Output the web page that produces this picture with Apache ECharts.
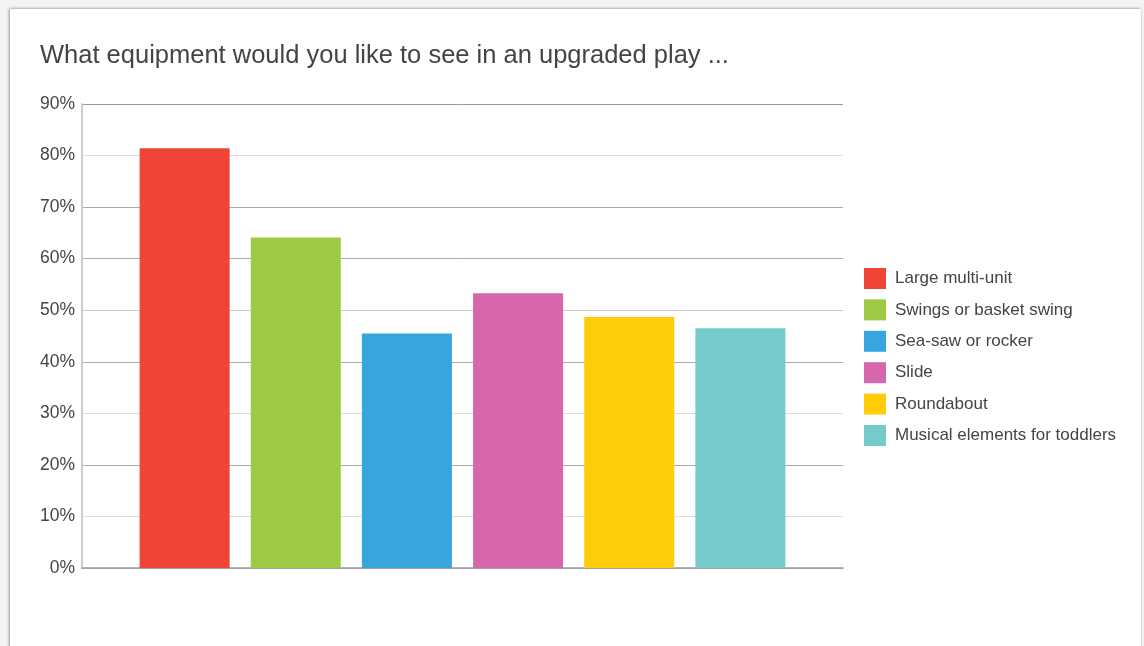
<!DOCTYPE html>
<html>
<head>
<meta charset="utf-8">
<script src="https://cdn.jsdelivr.net/npm/echarts@6/dist/echarts.min.js"></script>
<style>
  html, body { margin: 0; padding: 0; background: #f4f4f4; width: 1144px; height: 646px; overflow: hidden; }
  #card { position: absolute; left: 10px; top: 9px; width: 1131px; height: 640px; background: #fff;
          box-shadow: -1px 0 3px rgba(0,0,0,0.35), 0 -1px 2px rgba(0,0,0,0.12); }
  #chart { position: absolute; left: 0; top: 0; width: 1144px; height: 646px; }
</style>
</head>
<body>
<div id="card"></div>
<div id="chart"></div>
<script>
const titleText = 'What equipment would you like to see in an upgraded play ...';
const categories = ['Large multi-unit', 'Swings or basket swing', 'Sea-saw or rocker', 'Slide', 'Roundabout', 'Musical elements for toddlers'];
const values = [81.4, 64.1, 45.5, 53.3, 48.7, 46.5];
const colors = ['#f04436', '#9dc943', '#37a5de', '#d567aa', '#ffcc0a', '#74cbc9'];
const yTicks = [0, 10, 20, 30, 40, 50, 60, 70, 80, 90];

const chart = echarts.init(document.getElementById('chart'), null, { renderer: 'canvas' });
const series = categories.map((name, i) => ({
  name: name,
  type: 'bar',
  data: [values[i]],
  barWidth: 90,
  barGap: '23.5%',
  itemStyle: { color: colors[i] }
}));
chart.setOption({
  backgroundColor: 'transparent',
  animation: false,
  title: {
    text: titleText,
    left: 35, top: 38,
    textStyle: { fontFamily: 'Liberation Sans, Arial, sans-serif', fontSize: 25.5, fontWeight: 'normal', color: '#444' }
  },
  legend: {
    orient: 'vertical',
    left: 859, top: 263,
    itemWidth: 22, itemHeight: 21, itemGap: 10.4,
    icon: 'rect',
    textStyle: { fontFamily: 'Liberation Sans, Arial, sans-serif', fontSize: 17, color: '#444', padding: [0, 0, 0, 4] },
    data: categories
  },
  grid: { left: 82, right: 301, top: 104, bottom: 78, containLabel: false },
  xAxis: {
    type: 'category',
    data: ['all'],
    axisLine: { show: true, lineStyle: { color: '#999', width: 1.5 } },
    axisTick: { show: false },
    axisLabel: { show: false }
  },
  yAxis: {
    type: 'value',
    min: 0, max: 90, interval: 10,
    axisLine: { show: true, lineStyle: { color: '#ccc', width: 2 } },
    axisTick: { show: false },
    axisLabel: {
      formatter: v => yTicks.includes(v) ? v + '%' : '',
      fontFamily: 'Liberation Sans, Arial, sans-serif', fontSize: 17.5, color: '#444', margin: 7
    },
    splitLine: { show: true, lineStyle: { color: ['#bbb', '#ddd', '#aaa', '#ddd', '#aaa', '#ccc', '#aaa', '#aaa', '#ddd', '#999'], width: 1 } }
  },
  series: series
});
</script>
</body>
</html>
